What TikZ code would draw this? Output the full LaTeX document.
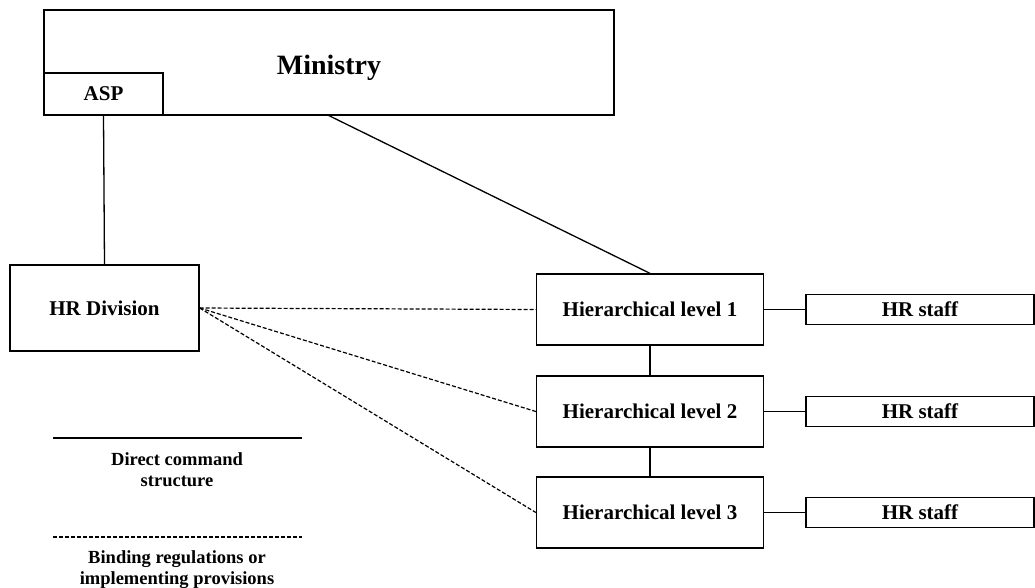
\documentclass[tikz,border=0pt]{standalone}
\usepackage{fontspec}
\setmainfont{Liberation Serif}
\usepackage{tikz}

\begin{document}
\begin{tikzpicture}[x=1pt,y=-1pt,
    unit/.style={draw,line width=1.3pt,fill=white,inner sep=0pt,align=center,
      font=\fontsize{21}{24}\selectfont\bfseries},
    link/.style={line width=1.3pt},
    rule/.style={line width=1.2pt,dashed,dash pattern=on 4pt off 2pt},
    legend/.style={align=center,font=\fontsize{18.5}{21}\selectfont\bfseries}]
    \useasboundingbox (0,0) rectangle (1035,587);
    % top of the structure
    \node[unit,minimum width=570pt,minimum height=105pt,
      label={[font=\fontsize{28}{32}\selectfont\bfseries,yshift=-5pt]center:Ministry}] (ministry) at (329,62.5) {};
    \node[unit,minimum width=119pt,minimum height=42pt] (asp) at (103.5,94) {ASP};
    \node[unit,minimum width=189pt,minimum height=86pt] (hrdiv) at (104.5,308) {HR Division};
    % hierarchical levels and their staff
    \foreach \n/\y in {1/309.5,2/411.5,3/512.5} {
      \node[unit,minimum width=227pt,minimum height=71pt] (level\n) at (650,\y) {Hierarchical level \n};
      \node[unit,minimum width=228pt,minimum height=30pt] (staff\n) at (920,\y) {HR staff};
      \draw[link] (level\n.east) -- (staff\n.west);
      \draw[rule] (hrdiv.east) -- (level\n.west);
    }
    \draw[link] (asp.south) -- (hrdiv.north);
    \draw[link] (ministry.south) -- (level1.north);
    \draw[link] (level1.south) -- (level2.north);
    \draw[link] (level2.south) -- (level3.north);
    % legend
    \coordinate (solidA) at (53,438);
    \coordinate (solidB) at (302,438);
    \coordinate (dashA) at (53,537);
    \coordinate (dashB) at (302,537);
    \draw[line width=2pt] (solidA) -- (solidB);
    \draw[rule] (dashA) -- (dashB);
    \node[legend] (direct) at (177,470) {Direct command\\structure};
    \node[legend] (binding) at (177,570) {Binding regulations or\\implementing provisions};
\end{tikzpicture}
\end{document}
